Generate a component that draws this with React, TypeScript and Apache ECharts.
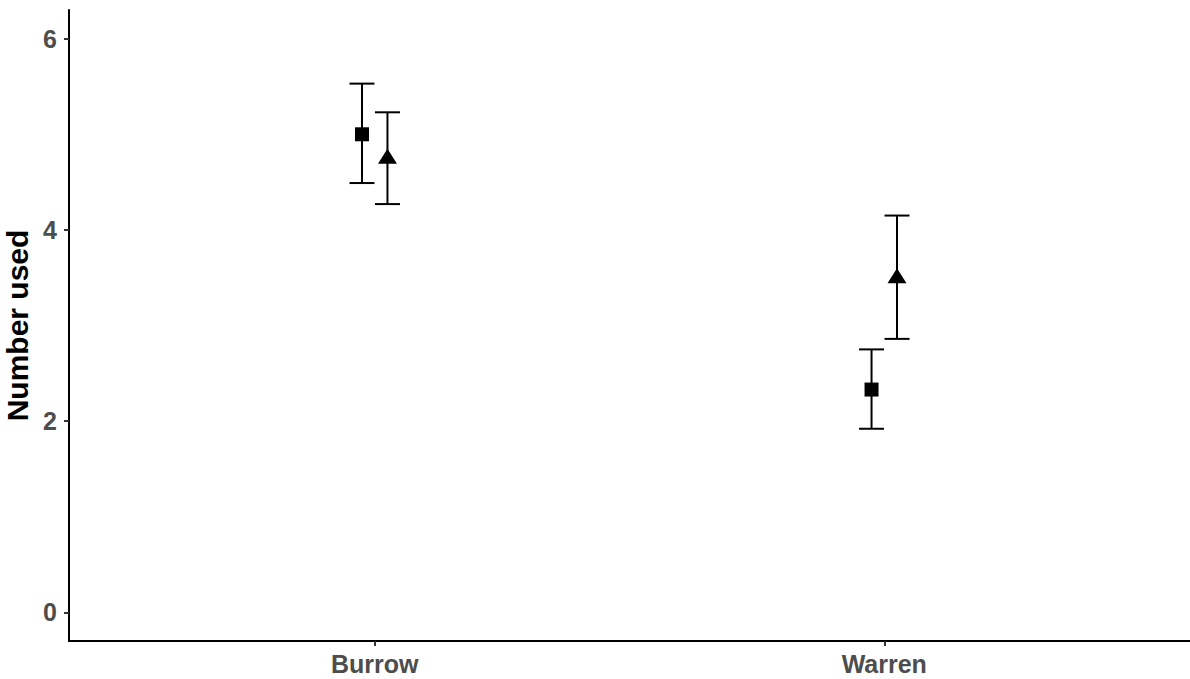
import React, { useEffect, useRef } from "react";
import * as echarts from "echarts";

const categories = ["Burrow", "Warren"];
const yTicks = [0, 2, 4, 6];
const squareMean = [5.0, 2.33];
const squareLow = [4.49, 1.92];
const squareHigh = [5.53, 2.75];
const triMean = [4.77, 3.52];
const triLow = [4.27, 2.86];
const triHigh = [5.23, 4.15];

const DODGE = 0.025;
const FONT = '"Liberation Sans", Arial, sans-serif';

export default function App() {
  const ref = useRef<HTMLDivElement>(null);
  useEffect(() => {
    if (!ref.current) return;
    const chart = echarts.init(ref.current, null, { renderer: "svg" });

    const sqX = categories.map((_, i) => i + 1 - DODGE);
    const trX = categories.map((_, i) => i + 1 + DODGE);
    const errData = [
      ...categories.map((_, i) => [sqX[i], squareLow[i], squareHigh[i]]),
      ...categories.map((_, i) => [trX[i], triLow[i], triHigh[i]]),
    ];

    const renderItem = (params: any, api: any) => {
      const x = api.value(0);
      const lo = api.coord([x, api.value(1)]);
      const hi = api.coord([x, api.value(2)]);
      const hw = 12.5;
      const style = { stroke: "#000", lineWidth: 2 };
      return {
        type: "group",
        children: [
          { type: "line", shape: { x1: lo[0], y1: lo[1], x2: hi[0], y2: hi[1] }, style },
          { type: "line", shape: { x1: lo[0] - hw, y1: lo[1], x2: lo[0] + hw, y2: lo[1] }, style },
          { type: "line", shape: { x1: hi[0] - hw, y1: hi[1], x2: hi[0] + hw, y2: hi[1] }, style },
        ],
      };
    };

    chart.setOption({
      animation: false,
      backgroundColor: "#fff",
      grid: {
        left: 69,
        right: 0,
        top: 10,
        bottom: 38,
        containLabel: false,
        outerBoundsMode: "none",
      },
      xAxis: {
        type: "value",
        min: 0.4,
        max: 2.6,
        splitLine: { show: false },
        axisLine: { show: true, onZero: false, lineStyle: { color: "#000", width: 2 } },
        axisTick: { show: true, customValues: [1, 2], length: 5, lineStyle: { color: "#333", width: 2 } },
        axisLabel: {
          customValues: [1, 2],
          formatter: (v: number) => categories[Math.round(v) - 1] ?? "",
          color: "#4D4D4D",
          fontSize: 25,
          fontWeight: "bold",
          fontFamily: FONT,
          margin: 10,
        },
      },
      yAxis: {
        type: "value",
        min: -0.3,
        max: 6.3,
        name: "Number used",
        nameLocation: "middle",
        nameRotate: 90,
        nameGap: 32,
        nameTextStyle: { color: "#000", fontSize: 30, fontWeight: "bold", fontFamily: FONT },
        splitLine: { show: false },
        axisLine: { show: true, onZero: false, lineStyle: { color: "#000", width: 2 } },
        axisTick: { show: true, customValues: yTicks, length: 5, lineStyle: { color: "#333", width: 2 } },
        axisLabel: {
          customValues: yTicks,
          color: "#4D4D4D",
          fontSize: 25,
          fontWeight: "bold",
          fontFamily: FONT,
          margin: 12,
        },
      },
      series: [
        {
          type: "custom",
          renderItem,
          data: errData,
          encode: { x: 0, y: [1, 2] },
          z: 1,
        },
        {
          type: "scatter",
          symbol: "rect",
          symbolSize: 14,
          itemStyle: { color: "#000", opacity: 1 },
          data: categories.map((_, i) => [sqX[i], squareMean[i]]),
          z: 2,
        },
        {
          type: "scatter",
          symbol: "triangle",
          symbolSize: [19, 15],
          itemStyle: { color: "#000", opacity: 1 },
          data: categories.map((_, i) => [trX[i], triMean[i]]),
          z: 2,
        },
      ],
    });
    return () => chart.dispose();
  }, []);

  return (
    <div
      ref={ref}
      style={{ position: "absolute", left: 0, top: 0, width: 1190, height: 679 }}
    />
  );
}
